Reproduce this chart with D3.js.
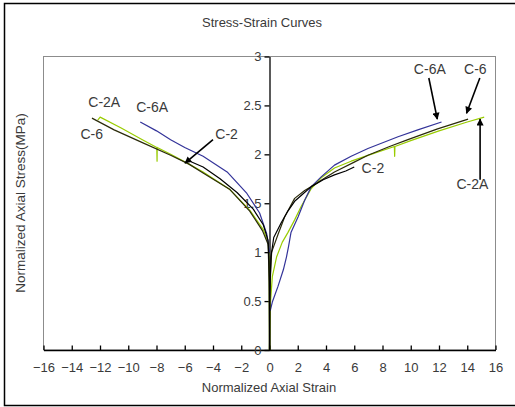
<!DOCTYPE html>
<html>
<head>
<meta charset="utf-8">
<script src="https://cdn.jsdelivr.net/npm/d3@7"></script>
<style>
  body { margin: 0; background: #fff; }
  text { font-family: "Liberation Sans", Arial, sans-serif; fill: #3a3a3a; }
</style>
</head>
<body>
<script>
// tick values
var xTicks = [-16, -14, -12, -10, -8, -6, -4, -2, 0, 2, 4, 6, 8, 10, 12, 14, 16];
var yTicks = [0, 0.5, 1, 1.5, 2, 2.5, 3];

// series values: [normalized strain, normalized stress]
var c2Left = [[0, 0], [-0.01, 0.6], [-0.03, 0.9], [-0.1, 1.12], [-0.44, 1.28], [-1.15, 1.44],
  [-2.3, 1.61], [-3.5, 1.75], [-4.7, 1.87], [-5.8, 1.94]];
var c2Right = [[0, 0], [0.02, 0.6], [0.1, 0.95], [0.3, 1.15], [0.83, 1.3], [1.3, 1.42],
  [1.78, 1.52], [2.4, 1.6], [2.96, 1.67], [3.8, 1.74], [4.6, 1.79], [5.4, 1.83], [6.0, 1.87]];

var c6Left = [[0, 0], [-0.02, 0.7], [-0.1, 1.08], [-0.5, 1.22], [-1.4, 1.42], [-2.8, 1.64],
  [-4.7, 1.81], [-5.7, 1.9], [-7, 1.99], [-9, 2.12], [-11, 2.25], [-12.57, 2.37]];
var c6Right = [[0, 0], [0.05, 0.7], [0.15, 1.0], [0.6, 1.18], [1.07, 1.36], [1.78, 1.55],
  [2.49, 1.63], [2.96, 1.67], [4.6, 1.82], [6.0, 1.92], [6.97, 1.99], [8.5, 2.08],
  [9.8, 2.15], [11.9, 2.26], [14.06, 2.36]];

var c2aLeft = [[0, 0], [-0.02, 0.8], [-0.08, 1.09], [-0.44, 1.23], [-1.4, 1.43], [-2.8, 1.64],
  [-4.7, 1.82], [-5.7, 1.9], [-7, 2.0], [-7.95, 2.07], [-7.96, 1.93], [-7.98, 2.07],
  [-9, 2.15], [-10.5, 2.27], [-11.99, 2.38], [-12.16, 2.35]];
var c2aRight = [[0, 0], [0.05, 0.45], [0.2, 0.75], [0.5, 0.95], [0.9, 1.1], [1.3, 1.2],
  [1.78, 1.33], [2.25, 1.47], [2.96, 1.65], [3.66, 1.76], [4.6, 1.86], [5.78, 1.93],
  [6.97, 1.99], [8.84, 2.08], [8.86, 1.98], [8.88, 2.08], [10, 2.14], [12, 2.24],
  [14, 2.33], [15.2, 2.38]];

var c6aLeft = [[0, 1.0], [-0.2, 1.19], [-0.7, 1.4], [-1.6, 1.6], [-3, 1.82], [-4.7, 1.98],
  [-6, 2.07], [-7, 2.15], [-8, 2.24], [-9.15, 2.33]];
var c6aRight = [[0.05, 0.4], [0.2, 0.49], [0.6, 0.65], [0.98, 0.82], [1.2, 0.95], [1.35, 1.06],
  [1.52, 1.2], [2.02, 1.36], [2.49, 1.53], [2.96, 1.67], [3.66, 1.77], [4.6, 1.89],
  [5.78, 1.98], [6.97, 2.06], [9.1, 2.18], [10.5, 2.25], [12.18, 2.33]];

var series = [
  { name: 'C-2A', color: '#99cc00', parts: [c2aLeft, c2aRight] },
  { name: 'C-6A', color: '#333399', parts: [c6aLeft, c6aRight] },
  { name: 'C-6', color: '#2b2b0a', parts: [c6Left, c6Right] },
  { name: 'C-2', color: '#000000', parts: [c2Left, c2Right] }
];

// labels: [text, strain, stress] ; arrows: [fromStrain, fromStress, toStrain, toStress]
var labels = [['C-2A', -11.7, 2.48], ['C-6A', -8.31, 2.43], ['C-6', -12.59, 2.16], ['C-2', -3.04, 2.16],
  ['C-6A', 11.35, 2.82], ['C-6', 14.57, 2.82], ['C-2A', 14.36, 1.65], ['C-2', 7.32, 1.81]];
var arrows = [[-4.0, 2.15, -5.98, 1.91], [11.28, 2.78, 11.88, 2.36], [14.89, 2.78, 13.95, 2.42],
  [14.91, 1.74, 14.91, 2.36]];

var W = 515, H = 407;
var margin = { top: 56.5, right: 19.5, bottom: 57, left: 43.5 },
  width = W - margin.left - margin.right,
  height = H - margin.top - margin.bottom;

var svg = d3.select('body').append('svg')
  .attr('width', W)
  .attr('height', H);

// outer frame (right edge runs off the picture)
svg.append('rect')
  .attr('x', 4.5).attr('y', 3.5)
  .attr('width', W + 10).attr('height', 402)
  .attr('fill', 'none').attr('stroke', '#000').attr('stroke-width', 1.5);

svg.append('defs').append('marker')
  .attr('id', 'arrow')
  .attr('viewBox', '0 0 10 10')
  .attr('refX', 9).attr('refY', 5)
  .attr('markerWidth', 9).attr('markerHeight', 7)
  .attr('markerUnits', 'userSpaceOnUse')
  .attr('orient', 'auto')
  .append('path')
  .attr('d', 'M0,0L10,5L0,10z')
  .attr('fill', '#000');

var x = d3.scaleLinear().domain([-16, 16]).range([0, width]);
var y = d3.scaleLinear().domain([0, 3]).range([height, 0]);

var g = svg.append('g').attr('transform', `translate(${margin.left}, ${margin.top})`);

// plot area border
g.append('rect')
  .attr('width', width).attr('height', height)
  .attr('fill', 'none').attr('stroke', '#8c8c8c').attr('stroke-width', 1);

// x axis at stress = 0, ticks pointing up
var xAxis = d3.axisBottom(x).tickValues(xTicks).tickSizeInner(-4.5).tickSizeOuter(0)
  .tickFormat(d3.format('d'));
var gx = g.append('g').attr('transform', `translate(0, ${y(0)})`).call(xAxis);
gx.selectAll('text').attr('y', 13).attr('font-size', 13).attr('font-family', null);

// y axis at strain = 0
var yAxis = d3.axisLeft(y).tickValues(yTicks).tickSizeInner(5).tickSizeOuter(0)
  .tickFormat(d3.format('~g'));
var gy = g.append('g').attr('transform', `translate(${x(0)}, 0)`).call(yAxis);
gy.selectAll('text').attr('x', -8).attr('font-size', 13).attr('font-family', null);

svg.selectAll('.domain').attr('stroke', '#000').attr('stroke-width', 1.3);
svg.selectAll('.tick line').attr('stroke', '#000').attr('stroke-width', 1.3);

// curves
var line = d3.line()
  .x(function(d) { return x(d[0]); })
  .y(function(d) { return y(d[1]); });

series.forEach(function(s) {
  s.parts.forEach(function(p) {
    g.append('path')
      .datum(p)
      .attr('d', line)
      .attr('fill', 'none')
      .attr('stroke', s.color)
      .attr('stroke-width', 1.2)
      .attr('stroke-linejoin', 'round');
  });
});

// annotations
g.selectAll('.ann-line')
  .data(arrows)
  .enter().append('line')
  .attr('x1', function(d) { return x(d[0]); })
  .attr('y1', function(d) { return y(d[1]); })
  .attr('x2', function(d) { return x(d[2]); })
  .attr('y2', function(d) { return y(d[3]); })
  .attr('stroke', '#000').attr('stroke-width', 1.6)
  .attr('marker-end', 'url(#arrow)');

g.selectAll('.ann-label')
  .data(labels)
  .enter().append('text')
  .attr('x', function(d) { return x(d[1]); })
  .attr('y', function(d) { return y(d[2]); })
  .attr('text-anchor', 'middle')
  .attr('font-size', 14)
  .text(function(d) { return d[0]; });

// titles
svg.append('text')
  .attr('x', 262).attr('y', 27)
  .attr('text-anchor', 'middle')
  .attr('font-size', 13)
  .text('Stress-Strain Curves');

svg.append('text')
  .attr('x', 269).attr('y', 392)
  .attr('text-anchor', 'middle')
  .attr('font-size', 13)
  .text('Normalized Axial Strain');

svg.append('text')
  .attr('transform', 'translate(25, 203) rotate(-90)')
  .attr('text-anchor', 'middle')
  .attr('font-size', 13.5)
  .text('Normalized Axial Stress(MPa)');
</script>
</body>
</html>
